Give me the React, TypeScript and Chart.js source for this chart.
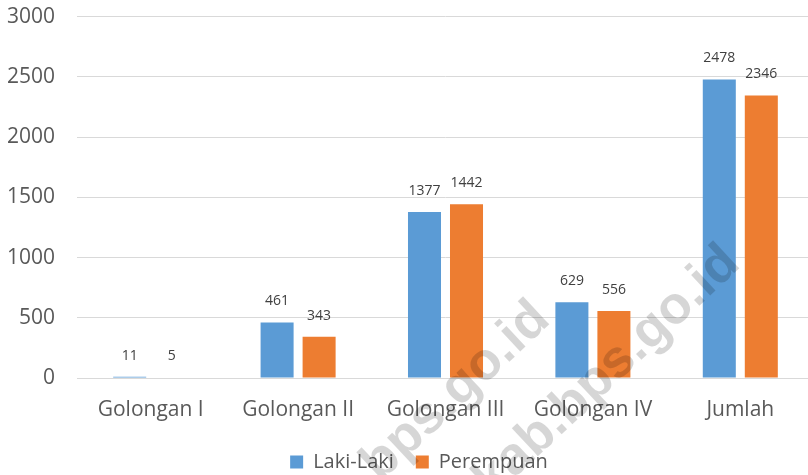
import React, { useEffect, useRef } from "react";
import { Chart, registerables } from "chart.js";

Chart.register(...registerables);

const categories = ["Golongan I", "Golongan II", "Golongan III", "Golongan IV", "Jumlah"];
const lakiLaki = [11, 461, 1377, 629, 2478];
const perempuan = [5, 343, 1442, 556, 2346];
const yTicks = [0, 500, 1000, 1500, 2000, 2500, 3000];
const seriesNames = ["Laki-Laki", "Perempuan"];
const watermarkText = "kab.bps.go.id";

const FONT = "'Open Sans', sans-serif";

const dataLabelPlugin = {
  id: "dataLabels",
  afterDatasetsDraw(chart: any) {
    const ctx = chart.ctx;
    ctx.save();
    ctx.font = `14px ${FONT}`;
    ctx.fillStyle = "#404040";
    ctx.textAlign = "center";
    ctx.textBaseline = "middle";
    chart.data.datasets.forEach((ds: any, di: number) => {
      const meta = chart.getDatasetMeta(di);
      meta.data.forEach((bar: any, i: number) => {
        ctx.fillText(String(ds.data[i]), bar.x, bar.y - 21);
      });
    });
    ctx.restore();
  },
};

const legendShiftPlugin = {
  id: "legendShift",
  afterLayout(chart: any) {
    if (chart.legend) {
      chart.legend.left += 12;
      chart.legend.right += 12;
    }
  },
};

const watermarkPlugin = {
  id: "watermark",
  afterDraw(chart: any) {
    const ctx = chart.ctx;
    ctx.save();
    ctx.font = `bold 53px 'Liberation Sans', Arial, sans-serif`;
    ctx.fillStyle = "rgba(0,0,0,0.16)";
    ctx.textAlign = "right";
    ctx.textBaseline = "alphabetic";
    const angle = (-43 * Math.PI) / 180;
    const ends = [
      [552, 322],
      [742, 266],
    ];
    ends.forEach(([x, y]) => {
      ctx.save();
      ctx.translate(x, y);
      ctx.rotate(angle);
      ctx.fillText(watermarkText, 0, 0);
      ctx.restore();
    });
    ctx.restore();
  },
};

export default function App() {
  const ref = useRef<HTMLCanvasElement | null>(null);

  useEffect(() => {
    if (!ref.current) return;
    const chart = new Chart(ref.current, {
      type: "bar",
      data: {
        labels: categories,
        datasets: [
          {
            label: seriesNames[0],
            data: lakiLaki,
            backgroundColor: "#5B9BD5",
            categoryPercentage: 0.57,
            barPercentage: 0.786,
          },
          {
            label: seriesNames[1],
            data: perempuan,
            backgroundColor: "#ED7D31",
            categoryPercentage: 0.57,
            barPercentage: 0.786,
          },
        ],
      },
      options: {
        animation: false,
        responsive: true,
        maintainAspectRatio: false,
        layout: { padding: { top: 0, right: 2, left: 0, bottom: -7 } },
        plugins: {
          tooltip: { enabled: false },
          legend: {
            position: "bottom",
            labels: {
              font: { family: FONT, size: 20 },
              color: "#595959",
              boxWidth: 13,
              boxHeight: 13,
              padding: 22,
            },
          },
        },
        scales: {
          x: {
            grid: { display: false, drawTicks: false },
            border: { display: true, color: "#d9d9d9" },
            afterFit: (scale: any) => {
              scale.height = 52;
            },
            ticks: {
              font: { family: FONT, size: 21 },
              color: "#595959",
              padding: 19,
              maxRotation: 0,
            },
          },
          y: {
            min: 0,
            max: 3000,
            afterBuildTicks: (scale: any) => {
              scale.ticks = yTicks.map((v) => ({ value: v }));
            },
            afterFit: (scale: any) => {
              scale.width = 77;
            },
            grid: {
              color: "#d9d9d9",
              drawTicks: true,
              tickLength: 18,
              tickColor: "rgba(0,0,0,0)",
            },
            border: { display: false },
            ticks: {
              font: { family: FONT, size: 21 },
              color: "#595959",
              padding: 4,
              callback: (v: any) => String(v),
            },
          },
        },
      },
      plugins: [dataLabelPlugin, legendShiftPlugin, watermarkPlugin],
    });
    return () => chart.destroy();
  }, []);

  return (
    <div
      style={{
        position: "fixed",
        left: 0,
        top: 0,
        width: 808,
        height: 475,
        overflow: "hidden",
        background: "#ffffff",
      }}
    >
      <div style={{ position: "relative", width: 816, height: 475 }}>
        <canvas ref={ref} />
      </div>
    </div>
  );
}
